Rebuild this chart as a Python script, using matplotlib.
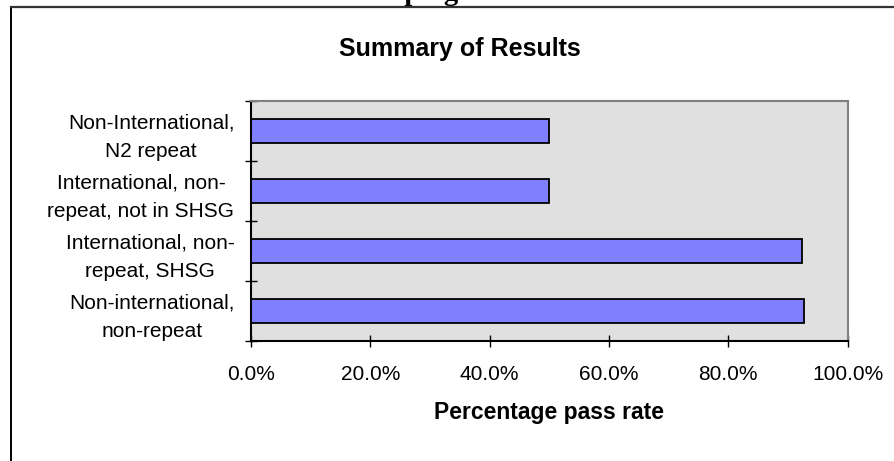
import numpy as np
import matplotlib
matplotlib.use("Agg")
import matplotlib.pyplot as plt
from matplotlib.ticker import PercentFormatter, FixedLocator
from matplotlib.lines import Line2D

# Data (bottom to top, as drawn)
categories = ["Non-international,\nnon-repeat",
              "International, non-\nrepeat, SHSG",
              "International, non-\nrepeat, not in SHSG",
              "Non-International,\nN2 repeat"]
pass_rate = [0.927, 0.923, 0.50, 0.50]
xticks = [0.0, 0.2, 0.4, 0.6, 0.8, 1.0]

plt.rcParams['font.family'] = ['Liberation Sans', 'DejaVu Sans']

fig = plt.figure(figsize=(8.94, 4.61), dpi=100)
W, H = 894, 461

# chart frame (left and top edges visible)
fig.add_artist(Line2D([11 / W, 11 / W], [0, 1 - 7 / H], color='black', lw=1.4, transform=fig.transFigure))
fig.add_artist(Line2D([11 / W, 1], [1 - 7 / H, 1 - 7 / H], color='#333333', lw=1.6, transform=fig.transFigure))

# clipped heading above the chart (only descenders show)
fig.text(341 / W, 1.0, "Grouping", family=['Liberation Serif', 'DejaVu Serif'],
         fontweight='bold', fontsize=20.5, va='baseline', ha='left')

ax = fig.add_axes([251 / W, 1 - 340.7 / H, 596.7 / W, 240 / H])
ax.set_facecolor('#E0E0E0')

y = np.arange(len(categories))
ax.barh(y, pass_rate, height=0.4, color='#8080FF', edgecolor='black', linewidth=1.3)

ax.set_xlim(0, 1)
ax.set_ylim(-0.5, len(categories) - 0.5)

ax.set_xticks(xticks)
ax.xaxis.set_major_formatter(PercentFormatter(xmax=1, decimals=1))
ax.tick_params(axis='x', direction='inout', length=9, width=1, labelsize=15, pad=13, color='black')

ax.set_yticks(y)
ax.set_yticklabels(categories, multialignment='center', linespacing=1.6)
ax.yaxis.set_minor_locator(FixedLocator(np.arange(-0.5, len(categories), 1.0)))
ax.tick_params(axis='y', which='major', length=0, labelsize=15, pad=12)
ax.tick_params(axis='y', which='minor', direction='inout', length=9, width=1, color='black')

for s in ['left', 'bottom']:
    ax.spines[s].set_color('black')
    ax.spines[s].set_linewidth(1.5)
for s in ['top', 'right']:
    ax.spines[s].set_color('#808080')
    ax.spines[s].set_linewidth(1.5)

ax.set_xlabel('Percentage pass rate', fontsize=16.5, fontweight='bold', labelpad=12)
fig.text(460 / W, 1 - 49 / H, 'Summary of Results', fontsize=18, fontweight='bold',
         ha='center', va='center')

fig.savefig('out.png', dpi=100)
